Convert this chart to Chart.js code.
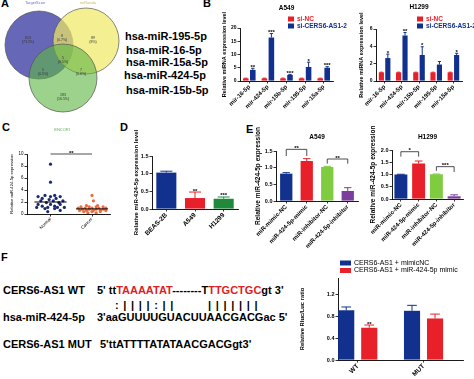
<!DOCTYPE html>
<html lang="en">
<head>
<meta charset="UTF-8">
<title>CERS6-AS1 and miR-424-5p</title>
<script src="https://cdn.jsdelivr.net/npm/chart.js"></script>
<style>
  body { margin: 0; background: #fff; font-family: "Liberation Sans", Arial, sans-serif; }
  #fig { position: relative; width: 474px; height: 379px; overflow: hidden; }
  #fig canvas { position: absolute; }
  .tag { position: absolute; font-weight: bold; font-size: 11px; }
  .mir { position: absolute; font-weight: bold; font-size: 11px; line-height: 12px; white-space: nowrap; }
  .seq { position: absolute; font-weight: bold; font-size: 11px; line-height: 12px; white-space: pre; }
  .pair { letter-spacing: 0.8px; }
  .r { color: #e0201e; }
</style>
</head>
<body>
<div id="fig">
  <div class="tag" style="left:1px;top:-3px">A</div>
  <div class="tag" style="left:203px;top:-3px">B</div>
  <div class="tag" style="left:2px;top:121px">C</div>
  <div class="tag" style="left:120px;top:121px">D</div>
  <div class="tag" style="left:246px;top:123px">E</div>
  <div class="tag" style="left:1px;top:251px">F</div>

  <!-- miRNAs shared by the three databases -->
  <div class="mir" style="left:125px;top:30px">hsa-miR-195-5p</div>
  <div class="mir" style="left:126px;top:44px">hsa-miR-16-5p</div>
  <div class="mir" style="left:126px;top:56px">hsa-miR-15a-5p</div>
  <div class="mir" style="left:124px;top:69px">hsa-miR-424-5p</div>
  <div class="mir" style="left:126px;top:84px">hsa-miR-15b-5p</div>

  <!-- binding site -->
  <div class="seq" style="left:3px;top:284px">CERS6-AS1 WT</div>
  <div class="seq" style="left:97px;top:284px">5' tt<span class="r">TAAAATAT</span>--------T<span class="r">TTGCTGC</span>gt 3'</div>
  <div class="seq pair" style="left:115px;top:299px">: | | | | : | |</div>
  <div class="seq pair" style="left:208px;top:299px">| | | | | | |</div>
  <div class="seq" style="left:3px;top:311px">hsa-miR-424-5p</div>
  <div class="seq" style="left:97px;top:311px">3'aaGUUUUGUACUUAACGACGac 5'</div>
  <div class="seq" style="left:3px;top:338px">CERS6-AS1 MUT</div>
  <div class="seq" style="left:100px;top:338px">5'ttATTTTATATAACGACGgt3'</div>
</div>

<script>
// ---- data ----
// A: venn circles (centre x, centre y, radius) in panel units
const vennSets = ['TargetScan', 'miRanda', 'ENCORI'];
const vennX = [39, 86, 63];
const vennY = [45, 41, 78];
const vennR = [34, 33, 34];
const vennCounts = ['813', '8', '89', '5', '5', '7', '183'];
const vennPct = ['(73.2%)', '(0.7%)', '(8%)', '(0.5%)', '(0.5%)', '(0.6%)', '(16.5%)'];
const vennCountX = [28, 62, 93, 43, 63, 81, 63];
const vennCountY = [38, 36, 38, 70, 58, 70, 95];

// B: miRNA levels after CERS6-AS1 knockdown
const bMirs = ['mir-16-5p', 'mir-424-5p', 'mir-15b-5p', 'mir-195-5p', 'mir-15a-5p'];
const bA549NC = [1, 1, 1, 1, 1];
const bA549Si = [4.2, 16.4, 2.3, 5.3, 5.0];
const bA549SiErr = [0.6, 1.5, 0.2, 1.8, 0.4];
const bA549Stars = ['**', '***', '***', '*', '***'];
const bH1299NC = [1, 1, 1, 1, 1];
const bH1299Si = [2.65, 5.25, 3.0, 1.9, 3.0];
const bH1299SiErr = [0.45, 0.35, 0.95, 0.35, 0.2];
const bH1299Stars = ['*', '**', '*', '', '*'];

// C: tissue samples (value, horizontal scatter offset)
const cGroups = ['Normal', 'Cancer'];
const cPos = [0.85, 2.35];
const cNormal = [8.3, 5.3, 3.1, 3.1, 2.9, 2.9, 2.9, 2.6, 2.6, 2.4, 2.2, 2.2, 2.2, 1.9, 1.9, 1.6, 1.6, 1.6, 1.3, 1.3, 1.1, 1.1, 1.1, 1.1, 0.9, 0.9, 0.6, 0.4];
const cNormalOff = [0, 0, -0.2, 0.15, -0.45, 0, 0.35, -0.3, 0.2, -0.05, -0.35, 0.1, 0.45, -0.15, 0.3, -0.45, 0, 0.35, -0.3, 0.15, -0.5, -0.1, 0.25, 0.5, -0.2, 0.15, 0.35, -0.1];
const cCancer = [3.1, 2.2, 1.4, 1.4, 1.2, 1.2, 1.2, 1.2, 1.0, 1.0, 1.0, 1.0, 1.0, 0.8, 0.8, 0.8, 0.8, 0.6, 0.6, 0.6, 0.6, 0.6, 0.4, 0.4, 0.4, 0.2, 0.2];
const cCancerOff = [0, 0.05, -0.2, 0.2, -0.4, -0.1, 0.15, 0.4, -0.5, -0.25, 0, 0.25, 0.5, -0.35, -0.1, 0.15, 0.4, -0.45, -0.2, 0.05, 0.3, 0.5, -0.3, 0, 0.3, -0.15, 0.15];
const cMeans = [2.0, 0.85];

// D: cell lines
const dLines = ['BEAS-2B', 'A549', 'H1299'];
const dValues = [1.03, 0.31, 0.29];
const dErr = [0.04, 0.17, 0.05];
const dStars = ['', '**', '***'];

// E: mimic / inhibitor
const eGroups = ['miR-mimic-NC', 'miR-424-5p-mimic', 'miR-inhibitor-NC', 'miR-424-5p-inhibitor'];
const eA549 = [0.82, 1.2, 1.02, 0.3];
const eA549Err = [0.03, 0.07, 0.02, 0.1];
const eH1299 = [1.0, 1.45, 1.01, 0.11];
const eH1299Err = [0.01, 0.1, 0.01, 0.06];
const eA549Brackets = [
  { a: 0, b: 1, y: 1.55, l: 1.35, r: 1.35, t: '**' },
  { a: 2, b: 3, y: 1.26, l: 1.12, r: 1.12, t: '**' }
];
const eH1299Brackets = [
  { a: 0, b: 1, y: 1.93, l: 1.73, r: 1.73, t: '*' },
  { a: 2, b: 3, y: 1.32, l: 1.15, r: 1.1, t: '***' }
];

// F: luciferase reporter
const fGroups = ['WT', 'MUT'];
const fMimicNC = [0.91, 0.90];
const fMimicNCErr = [0.06, 0.1];
const fMimic = [0.59, 0.76];
const fMimicErr = [0.05, 0.08];
const fStars = ['**', ''];

// ---- style ----
const NAVY = '#12318f', RED = '#e8202a', DGREEN = '#1f8a3c', LGREEN = '#80cc40', PURPLE = '#7c3e9c';
const FONT = '"Liberation Sans", Arial, sans-serif';
Chart.defaults.font.family = FONT;
Chart.defaults.color = '#000';

// error bars (mean + SD, upward) and stars over bars
const errorBars = {
  id: 'errorBars',
  afterDatasetsDraw(chart) {
    const ctx = chart.ctx, ys = chart.scales.y;
    chart.data.datasets.forEach((ds, i) => {
      if (!ds.errors) return;
      chart.getDatasetMeta(i).data.forEach((bar, j) => {
        const raw = ds.data[j];
        const v = typeof raw === 'object' ? raw.y : raw;
        const top = ys.getPixelForValue(v + ds.errors[j]);
        const col = Array.isArray(ds.backgroundColor) ? ds.backgroundColor[j] : ds.backgroundColor;
        const w = bar.width * 0.3;
        ctx.save();
        ctx.strokeStyle = col;
        ctx.lineWidth = 1;
        ctx.beginPath();
        ctx.moveTo(bar.x, bar.y);
        ctx.lineTo(bar.x, top);
        ctx.moveTo(bar.x - w, top);
        ctx.lineTo(bar.x + w, top);
        ctx.stroke();
        if (ds.stars && ds.stars[j]) {
          ctx.fillStyle = '#000';
          ctx.font = 'bold 6px ' + FONT;
          ctx.textAlign = 'center';
          ctx.fillText(ds.stars[j], bar.x, top + 0.5);
        }
        ctx.restore();
      });
    });
  }
};

// titles, legends, brackets and notes
const decor = {
  id: 'decor',
  afterDraw(chart, args, o) {
    const ctx = chart.ctx, a = chart.chartArea, xs = chart.scales.x, ys = chart.scales.y;
    ctx.save();
    if (o.title) {
      ctx.font = 'bold 6.5px ' + FONT;
      ctx.textAlign = 'center';
      ctx.textBaseline = 'middle';
      ctx.fillStyle = '#000';
      ctx.fillText(o.title, (a.left + a.right) / 2, o.titleY);
    }
    if (o.legend) {
      const L = o.legend;
      ctx.font = L.font;
      ctx.textAlign = 'left';
      ctx.textBaseline = 'middle';
      chart.data.datasets.forEach((ds, i) => {
        const y = L.y + i * L.dy;
        ctx.fillStyle = ds.backgroundColor;
        ctx.fillRect(L.x, y - L.bh / 2, L.bw, L.bh);
        ctx.fillStyle = L.color || ds.backgroundColor;
        ctx.fillText(ds.label, L.x + L.bw + 3, y);
      });
    }
    (o.brackets || []).forEach(b => {
      const x1 = xs.getPixelForValue(b.a), x2 = xs.getPixelForValue(b.b);
      const y = ys.getPixelForValue(b.y);
      ctx.strokeStyle = '#222';
      ctx.lineWidth = 0.8;
      ctx.beginPath();
      ctx.moveTo(x1, ys.getPixelForValue(b.l));
      ctx.lineTo(x1, y);
      ctx.lineTo(x2, y);
      ctx.lineTo(x2, ys.getPixelForValue(b.r));
      ctx.stroke();
      ctx.fillStyle = '#000';
      ctx.font = 'bold 6px ' + FONT;
      ctx.textAlign = 'center';
      ctx.textBaseline = 'alphabetic';
      ctx.fillText(b.t, (x1 + x2) / 2, y + 0.5);
    });
    (o.notes || []).forEach(n => {
      ctx.fillStyle = n.c;
      ctx.font = n.f;
      ctx.textAlign = 'center';
      ctx.textBaseline = 'middle';
      ctx.fillText(n.t, xs.getPixelForValue(n.x), ys.getPixelForValue(n.y));
    });
    ctx.restore();
  }
};
Chart.register(errorBars, decor);

function place(left, top, w, h) {
  const cv = document.createElement('canvas');
  cv.width = w; cv.height = h;
  cv.style.left = left + 'px';
  cv.style.top = top + 'px';
  document.getElementById('fig').appendChild(cv);
  return cv;
}

function yAxis(o) {
  return {
    min: 0, max: o.max,
    ticks: { stepSize: o.step, font: { size: o.tick, weight: o.weight || 'bold' }, padding: 1,
             callback: o.dec ? (v => v.toFixed(1)) : (v => v) },
    grid: { drawOnChartArea: false, tickLength: 2.5, color: '#000', lineWidth: 0.8 },
    border: { color: '#000', width: 0.9 },
    title: { display: true, text: o.title, font: { size: o.tsize, weight: o.weight || 'bold' },
             padding: { top: o.tpad, bottom: 0 } },
    afterBuildTicks: s => { s.ticks = s.ticks.filter(t => t.value <= o.top + 1e-9); },
    afterFit: s => { s.width = o.width; s.paddingTop = 0; s.paddingBottom = 0; }
  };
}

function xAxis(o) {
  const ax = {
    offset: true,
    grid: { drawOnChartArea: false, tickLength: 2.5, color: '#000', lineWidth: 0.8, offset: false },
    border: { color: '#000', width: 0.9 },
    ticks: { font: { size: o.size, weight: o.weight || 'bold' }, maxRotation: 45, minRotation: 45,
             padding: 0, autoSkip: false },
    afterFit: s => { s.height = o.height; s.paddingLeft = 0; s.paddingRight = 0; }
  };
  if (o.linear) {
    ax.type = 'linear';
    ax.offset = false;
    ax.min = o.min; ax.max = o.max;
    ax.afterBuildTicks = s => { s.ticks = o.at.map(v => ({ value: v })); };
    ax.ticks.callback = (v, i) => o.names[i];
  }
  return ax;
}

function base(pad, x, y, deco) {
  return {
    responsive: false, animation: false,
    layout: { padding: pad, autoPadding: false },
    scales: { x: x, y: y },
    plugins: { legend: { display: false }, tooltip: { enabled: false }, decor: deco }
  };
}

// ---- A: venn ----
const vennFill = ['rgba(78,78,172,0.86)', 'rgba(240,234,100,0.7)', 'rgba(96,182,70,0.62)'];
new Chart(place(0, 0, 125, 135), {
  type: 'scatter',
  data: {
    datasets: vennSets.map((s, i) => ({
      label: s,
      order: vennSets.length - i,       // first set at the bottom
      data: [{ x: vennX[i], y: vennY[i] }],
      pointRadius: vennR[i],
      backgroundColor: vennFill[i],
      borderColor: '#555',
      borderWidth: 0.7
    }))
  },
  options: {
    responsive: false, animation: false,
    layout: { padding: 0, autoPadding: false },
    scales: {
      x: { display: false, min: 0, max: 125 },
      y: { display: false, min: 0, max: 135, reverse: true }
    },
    plugins: {
      legend: { display: false }, tooltip: { enabled: false },
      decor: {
        notes: [
          { x: 35, y: 3, t: vennSets[0], c: '#7070c8', f: '4px ' + FONT },
          { x: 88, y: 3, t: vennSets[1], c: '#c8c060', f: '4px ' + FONT },
          { x: 62, y: 130, t: vennSets[2], c: '#58b058', f: '4px ' + FONT }
        ].concat(vennCounts.map((t, i) => ({ x: vennCountX[i], y: vennCountY[i], t: t, c: '#333', f: '3.5px ' + FONT })))
         .concat(vennPct.map((t, i) => ({ x: vennCountX[i], y: vennCountY[i] + 4, t: t, c: '#333', f: '3.5px ' + FONT })))
      }
    }
  }
});

// ---- B: A549 ----
new Chart(place(215, 0, 140, 115), {
  type: 'bar',
  data: {
    labels: bMirs,
    datasets: [
      { label: 'si-NC', data: bA549NC, errors: bA549NC.map(() => 0.08), backgroundColor: RED,
        categoryPercentage: 0.75, barPercentage: 0.8 },
      { label: 'si-CERS6-AS1-2', data: bA549Si, errors: bA549SiErr, stars: bA549Stars, backgroundColor: NAVY,
        categoryPercentage: 0.75, barPercentage: 0.8 }
    ]
  },
  options: base({ left: 0, right: 22, top: 28, bottom: 0 },
    xAxis({ height: 34, size: 6 }),
    yAxis({ max: 20, top: 20, step: 5, tick: 5, width: 25, title: 'Relative miRNA expression level', tsize: 5.5, tpad: 6.5 }),
    { title: 'A549', titleY: 8, legend: { x: 73, y: 19, dy: 7, bw: 6, bh: 5, font: 'bold 6.5px ' + FONT } })
});

// ---- B: H1299 ----
new Chart(place(350, 0, 124, 115), {
  type: 'bar',
  data: {
    labels: bMirs,
    datasets: [
      { label: 'si-NC', data: bH1299NC, errors: bH1299NC.map(() => 0.02), backgroundColor: RED,
        categoryPercentage: 0.75, barPercentage: 0.8 },
      { label: 'si-CERS6-AS1-2', data: bH1299Si, errors: bH1299SiErr, stars: bH1299Stars, backgroundColor: NAVY,
        categoryPercentage: 0.75, barPercentage: 0.8 }
    ]
  },
  options: base({ left: 0, right: 12, top: 29, bottom: 0 },
    xAxis({ height: 34, size: 6 }),
    yAxis({ max: 6, top: 6, step: 2, tick: 5, width: 26, title: 'Relative miRNA expression level', tsize: 5.5, tpad: 8.5 }),
    { title: 'H1299', titleY: 7, legend: { x: 67, y: 19, dy: 7, bw: 6, bh: 5, font: 'bold 6.5px ' + FONT } })
});

// ---- C: tissues ----
new Chart(place(0, 125, 118, 125), {
  type: 'scatter',
  data: {
    datasets: [
      { data: [{ x: cPos[0] - 0.58, y: cMeans[0] }, { x: cPos[0] + 0.58, y: cMeans[0] }],
        showLine: true, pointRadius: 0, borderColor: '#000', borderWidth: 1 },
      { data: [{ x: cPos[1] - 0.58, y: cMeans[1] }, { x: cPos[1] + 0.58, y: cMeans[1] }],
        showLine: true, pointRadius: 0, borderColor: '#000', borderWidth: 1 },
      { label: cGroups[0], data: cNormal.map((v, i) => ({ x: cPos[0] + cNormalOff[i], y: v })),
        pointRadius: 1.6, backgroundColor: '#1b2a72', borderWidth: 0 },
      { label: cGroups[1], data: cCancer.map((v, i) => ({ x: cPos[1] + cCancerOff[i], y: v })),
        pointRadius: 1.6, backgroundColor: '#ec6a3e', borderWidth: 0 }
    ]
  },
  options: base({ left: 0, right: 8, top: 29, bottom: 0 },
    xAxis({ height: 36, size: 4.5, weight: 'normal', linear: true, min: 0, max: 3, at: cPos, names: cGroups }),
    yAxis({ max: 10, top: 10, step: 2, tick: 4.5, weight: 'normal', width: 27, title: 'Relative miR-424-5p expression', tsize: 4.2, tpad: 9.5 }),
    { brackets: [{ a: cPos[0], b: cPos[1], y: 10, l: 10, r: 10, t: '**' }] })
});

// ---- D: cell lines ----
new Chart(place(118, 125, 125, 125), {
  type: 'bar',
  data: {
    labels: dLines,
    datasets: [{ label: 'cells', data: dValues, errors: dErr, stars: dStars,
                 backgroundColor: [NAVY, RED, DGREEN], barPercentage: 0.7, categoryPercentage: 1 }]
  },
  options: base({ left: 0, right: 5, top: 31, bottom: 0 },
    xAxis({ height: 41, size: 6.5 }),
    yAxis({ max: 1.5, top: 1.5, step: 0.5, tick: 5.5, dec: true, width: 34, title: 'Relative miR-424-5p expression level', tsize: 6, tpad: 14.4 }),
    {})
});

// ---- E: A549 ----
new Chart(place(240, 125, 120, 130), {
  type: 'bar',
  data: {
    labels: eGroups,
    datasets: [{ label: 'A549', data: eA549, errors: eA549Err,
                 backgroundColor: [NAVY, RED, LGREEN, PURPLE], barPercentage: 0.6, categoryPercentage: 1 }]
  },
  options: base({ left: 0, right: 2, top: 26, bottom: 0 },
    xAxis({ height: 54, size: 6 }),
    yAxis({ max: 1.5, top: 1.5, step: 0.5, tick: 5.5, dec: true, width: 36, title: 'Relative miR-424-5p expression', tsize: 6.5, tpad: 14 }),
    { title: 'A549', titleY: 12, brackets: eA549Brackets })
});

// ---- E: H1299 ----
new Chart(place(355, 125, 119, 130), {
  type: 'bar',
  data: {
    labels: eGroups,
    datasets: [{ label: 'H1299', data: eH1299, errors: eH1299Err,
                 backgroundColor: [NAVY, RED, LGREEN, PURPLE], barPercentage: 0.73, categoryPercentage: 1 }]
  },
  options: base({ left: 0, right: 11, top: 25, bottom: 0 },
    xAxis({ height: 56, size: 6 }),
    yAxis({ max: 2, top: 2, step: 0.5, tick: 5.5, dec: true, width: 37, title: 'Relative miR-424-5p expression', tsize: 6.5, tpad: 14 }),
    { title: 'H1299', titleY: 12, brackets: eH1299Brackets })
});

// ---- F: luciferase ----
new Chart(place(290, 255, 184, 124), {
  type: 'bar',
  data: {
    datasets: [
      { label: 'CERS6-AS1 + mimicNC', data: fMimicNC.map((v, i) => ({ x: i, y: v })), errors: fMimicNCErr,
        backgroundColor: NAVY, categoryPercentage: 0.7, barPercentage: 0.7 },
      { label: 'CERS6-AS1 + miR-424-5p mimic', data: fMimic.map((v, i) => ({ x: i, y: v })), errors: fMimicErr,
        stars: fStars, backgroundColor: RED, categoryPercentage: 0.7, barPercentage: 0.7 }
    ]
  },
  options: base({ left: 0, right: 11, top: 23, bottom: 0 },
    xAxis({ height: 19, size: 6.5, linear: true, min: -0.3, max: 1.6, at: [0, 1], names: fGroups }),
    yAxis({ max: 1.5, top: 1.2, step: 0.4, tick: 5.5, dec: true, width: 48, title: 'Relative Rluc/Luc ratio', tsize: 5.8, tpad: 8.5 }),
    { legend: { x: 50, y: 8, dy: 7.5, bw: 11, bh: 5, color: '#000', font: '7px ' + FONT } })
});
</script>
</body>
</html>
